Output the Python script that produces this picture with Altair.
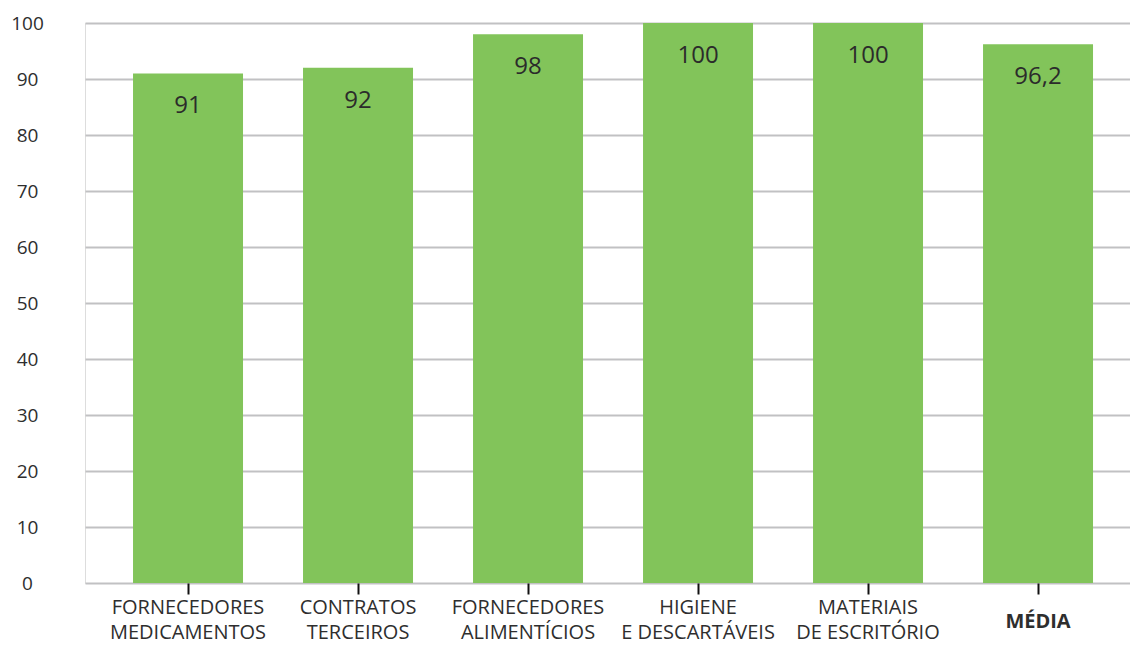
import altair as alt
import pandas as pd

categories = [
    "FORNECEDORES|MEDICAMENTOS",
    "CONTRATOS|TERCEIROS",
    "FORNECEDORES|ALIMENTÍCIOS",
    "HIGIENE|E DESCARTÁVEIS",
    "MATERIAIS|DE ESCRITÓRIO",
    "MÉDIA",
]
values = [91, 92, 98, 100, 100, 96.2]

df = pd.DataFrame({"cat": categories, "value": values})

FONT = "Open Sans"

x = alt.X(
    "cat:N",
    sort=categories,
    title=None,
    scale=alt.Scale(paddingInner=0.353, paddingOuter=0.25, align=0.565),
    axis=alt.Axis(
        labelExpr="split(datum.label, '|')",
        labelAngle=0,
        labelFont=FONT,
        labelFontSize=20,
        labelColor="#2e2e2e",
        labelLineHeight=25,
        labelBaseline="top",
        labelFontWeight={"condition": {"test": "datum.value == 'MÉDIA'", "value": "bold"}, "value": "normal"},
        labelPadding={"condition": {"test": "datum.value == 'MÉDIA'", "value": 17}, "value": 3},
        domain=False,
        ticks=True,
        tickSize=11,
        tickWidth=2,
        tickColor="#111111",
        grid=False,
    ),
)

y = alt.Y(
    "value:Q",
    title=None,
    scale=alt.Scale(domain=[0, 100], nice=False),
    axis=alt.Axis(
        values=list(range(0, 101, 10)),
        labelFont=FONT,
        labelFontSize=19,
        labelColor="#2e2e2e",
        labelAlign="center",
        labelPadding=58,
        ticks=False,
        tickSize=0,
        domain=False,
        grid=True,
        gridColor="#c1c1c3",
        gridWidth=2,
    ),
)

bars = alt.Chart(df).mark_bar(color="#82c45a").encode(x=x, y=y)

text = (
    alt.Chart(df)
    .transform_calculate(lbl="replace(toString(datum.value), '.', ',')")
    .mark_text(baseline="middle", dy=33, fontSize=24, font=FONT, color="#2b2b2b")
    .encode(x=alt.X("cat:N", sort=categories), y=alt.Y("value:Q"), text="lbl:N")
)

chart = (
    alt.layer(bars, text)
    .properties(
        width=1045,
        height=560,
        autosize=alt.AutoSizeParams(type="none"),
        padding={"left": 85, "top": 23, "right": 0, "bottom": 65},
    )
    .configure_view(stroke=None)
    .configure(background="white")
)

chart.save("out.html", embed_options={"renderer": "svg", "actions": False})
